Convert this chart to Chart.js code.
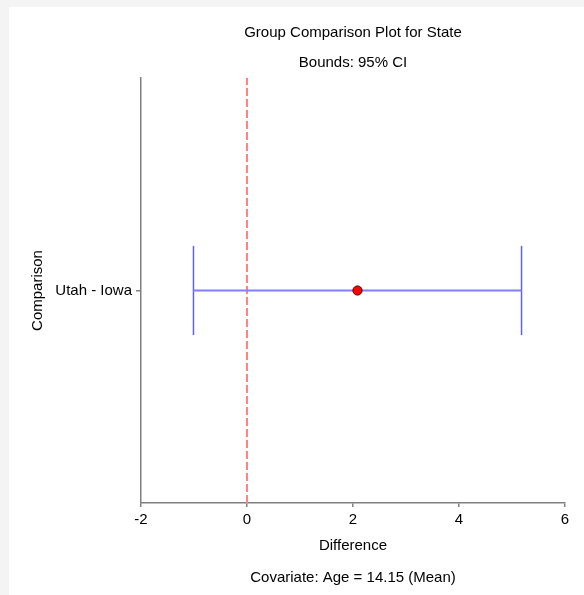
<!DOCTYPE html>
<html>
<head>
<meta charset="utf-8">
<script src="https://cdn.jsdelivr.net/npm/chart.js@4.4.1/dist/chart.umd.min.js"></script>
<style>
  html, body { margin: 0; padding: 0; background: #f4f4f4; }
  #wrap { position: absolute; left: 9px; top: 7px; width: 575px; height: 588px; background: #ffffff; }
  canvas { display: block; }
</style>
</head>
<body>
<div id="wrap"><canvas id="c" width="575" height="588"></canvas></div>
<script>
// ---- data ----
const categories = ['Utah - Iowa'];
const estimates  = [2.085];
const lowerBounds = [-1.01];
const upperBounds = [5.18];
const xTicks = [-2, 0, 2, 4, 6];
const titleText = 'Group Comparison Plot for State';
const subtitleText = 'Bounds: 95% CI';
const footerText = 'Covariate: Age = 14.15 (Mean)';
const xTitle = 'Difference';
const yTitle = 'Comparison';

// ---- styling ----
const FONT = "'Liberation Sans', Arial, sans-serif";
const AXIS = '#808080';
const CI_COLOR = '#7f7fff';
const CAP_HALF = 0.21;

const yMax = categories.length + 1;
const datasets = [];

// estimate points
datasets.push({
  type: 'scatter',
  data: estimates.map((v, i) => ({ x: v, y: i + 1 })),
  pointRadius: 4.6,
  pointBackgroundColor: '#ff0000',
  pointBorderColor: '#500000',
  pointBorderWidth: 1,
  showLine: false,
  order: 0
});
categories.forEach((c, i) => {
  const y = i + 1;
  // interval line
  datasets.push({
    type: 'line',
    data: [{ x: lowerBounds[i], y: y }, { x: upperBounds[i], y: y }],
    borderColor: CI_COLOR, borderWidth: 2, pointRadius: 0, order: 1
  });
  // caps
  [lowerBounds[i], upperBounds[i]].forEach(b => {
    datasets.push({
      type: 'line',
      data: [{ x: b, y: y - CAP_HALF }, { x: b, y: y + CAP_HALF }],
      borderColor: '#6060f8', borderWidth: 1.5, pointRadius: 0, order: 1
    });
  });
});
// zero reference line
datasets.push({
  type: 'line',
  data: [{ x: 0, y: 0 }, { x: 0, y: yMax }],
  borderColor: '#ff8484', borderWidth: 2, borderDash: [8, 3],
  pointRadius: 0, order: 2
});

const textPlugin = {
  id: 'texts',
  afterDraw(chart) {
    const ctx = chart.ctx;
    const ca = chart.chartArea;
    const cx = (ca.left + ca.right) / 2;
    ctx.save();
    ctx.fillStyle = '#000';
    ctx.font = '15px ' + FONT;
    ctx.textAlign = 'center';
    ctx.textBaseline = 'middle';
    ctx.fillText(titleText, cx, 25.5);
    ctx.fillText(subtitleText, cx, 56);
    ctx.fillText(footerText, cx, 571);
    ctx.restore();
  }
};

new Chart(document.getElementById('c'), {
  type: 'scatter',
  data: { datasets },
  options: {
    responsive: false,
    animation: false,
    events: [],
    layout: { padding: { top: 71, right: 19, bottom: 32, left: 0 } },
    plugins: { legend: { display: false }, tooltip: { enabled: false } },
    scales: {
      x: {
        type: 'linear', min: -2, max: 6,
        afterBuildTicks: s => { s.ticks = xTicks.map(v => ({ value: v })); },
        afterFit: s => { s.height = 60; },
        grid: { drawOnChartArea: false, drawTicks: true, tickLength: 4, color: AXIS, lineWidth: 1.5 },
        border: { display: true, color: AXIS, width: 1.5 },
        ticks: { color: '#000', font: { family: FONT, size: 15 }, padding: 4, maxRotation: 0 },
        title: { display: true, text: xTitle, color: '#000', font: { family: FONT, size: 15 }, padding: { top: 4, bottom: 8 } }
      },
      y: {
        type: 'linear', min: 0, max: yMax,
        afterBuildTicks: s => { s.ticks = categories.map((c, i) => ({ value: i + 1 })); },
        afterFit: s => { s.width = 132; },
        grid: { drawOnChartArea: false, drawTicks: true, tickLength: 5, color: AXIS, lineWidth: 1.5 },
        border: { display: true, color: AXIS, width: 1.5 },
        ticks: {
          color: '#000', font: { family: FONT, size: 15 }, padding: 4,
          callback: v => categories[Math.round(v) - 1] || ''
        },
        title: { display: true, text: yTitle, color: '#000', font: { family: FONT, size: 15 }, padding: { top: 20, bottom: 0 } }
      }
    }
  },
  plugins: [textPlugin]
});
</script>
</body>
</html>
